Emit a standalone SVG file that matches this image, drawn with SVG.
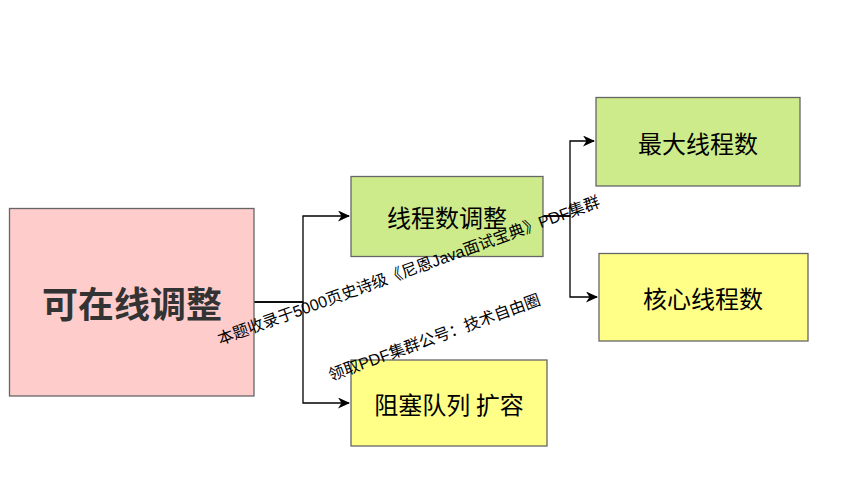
<svg xmlns="http://www.w3.org/2000/svg" width="842" height="495" viewBox="0 0 842 495">
<defs>
<style>
.box{stroke:#666666;stroke-width:1.3}
.green{fill:#cdeb8b}
.yellow{fill:#ffff88}
.pink{fill:#ffcccc}
.lbl{font-family:"Noto Sans CJK SC","Liberation Sans",sans-serif;font-size:24px;fill:#000;text-anchor:middle;dominant-baseline:central}
.root{font-size:36px;font-weight:bold;fill:#333333}
.edge{fill:none;stroke:#000;stroke-width:1.3}
.wm{font-family:"Liberation Sans","Noto Sans CJK SC",sans-serif;font-size:16px;fill:#000}
</style>
<marker id="arr" markerWidth="13" markerHeight="11" refX="11" refY="5.5" orient="auto" markerUnits="userSpaceOnUse">
<path d="M0,0 L12,5.5 L0,11 L3.5,5.5 Z" fill="#000"/>
</marker>
</defs>
<rect width="842" height="495" fill="#fff"/>
<g id="connectors">
<path class="edge" d="M254,302 H303 V216 H349" marker-end="url(#arr)"/>
<path class="edge" d="M254,302 H303 V403 H349" marker-end="url(#arr)"/>
<path class="edge" d="M543,216 H570 V141 H594" marker-end="url(#arr)"/>
<path class="edge" d="M543,216 H570 V297 H597" marker-end="url(#arr)"/>
</g>
<g id="node-root">
<rect class="box pink" x="9.5" y="208.5" width="244.5" height="187.5"/>
<text class="lbl root" x="132" y="302">可在线调整</text>
</g>
<g id="node-threads">
<rect class="box green" x="351" y="176.5" width="192" height="80"/>
<text class="lbl" x="447" y="216">线程数调整</text>
</g>
<g id="node-queue">
<rect class="box yellow" x="351" y="360" width="196" height="86"/>
<text class="lbl" x="449" y="403">阻塞队列 扩容</text>
</g>
<g id="node-max">
<rect class="box green" x="596" y="97.5" width="204" height="88.5"/>
<text class="lbl" x="698" y="142">最大线程数</text>
</g>
<g id="node-core">
<rect class="box yellow" x="599" y="253.5" width="209" height="87.5"/>
<text class="lbl" x="703" y="297">核心线程数</text>
</g>
<g id="watermark">
<text class="wm" transform="translate(220,345) rotate(-20)">本题收录于5000页史诗级《尼恩Java面试宝典》PDF集群</text>
<text class="wm" transform="translate(331,381) rotate(-20)">领取PDF集群公号：技术自由圈</text>
</g>
</svg>
